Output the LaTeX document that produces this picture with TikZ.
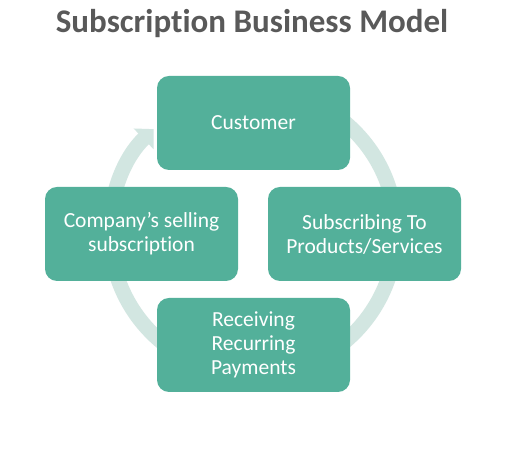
\documentclass[tikz,border=0pt]{standalone}
\usepackage{fontspec}
\setmainfont{Carlito}[Ligatures=NoCommon]
\usetikzlibrary{arrows.meta}
\definecolor{boxteal}{RGB}{83,176,154}
\definecolor{ringgray}{RGB}{210,230,225}
\definecolor{titlegray}{RGB}{89,89,89}
\tikzset{
  stepbox/.style={draw=none, fill=boxteal, rounded corners=12pt, minimum width=193pt,
    minimum height=94pt, text=white, align=center, font=\fontsize{21.5}{24}\selectfont,
    inner sep=0pt},
  ring/.style={draw=ringgray, line width=15pt, -{Triangle[width=28pt,length=14pt]}}
}
\begin{document}
\begin{tikzpicture}[x=1pt,y=1pt]
\useasboundingbox[fill=white] (0,0) rectangle (506,462);
\node[anchor=base, text=titlegray, font=\fontsize{33}{38}\selectfont\bfseries] (title) at (252,429) {Subscription Business Model};
\coordinate (c) at (253,230);
\draw[ring] ([shift={(100:143)}]c) arc[start angle=100, end angle=-226, radius=143];
\node[stepbox] (cust) at (253.5,339) {Customer};
\node[stepbox] (subs) at (364.5,228) {Subscribing To\\Products/Services};
\node[stepbox] (recv) at (253.5,117) {Receiving\\Recurring\\Payments};
\node[stepbox] (comp) at (141.5,228) {Company’s selling\\subscription};
\end{tikzpicture}
\end{document}
